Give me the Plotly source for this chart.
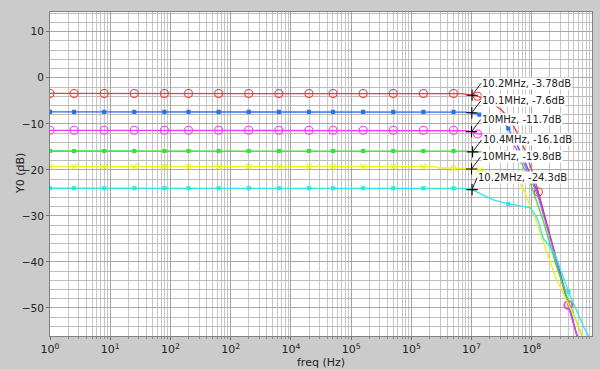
import math
import plotly.graph_objects as go

# ---------------- data (frequency exponents = log10(Hz), values in dB) ----------------
red_exp = [0, 0.4, 0.9, 1.4, 1.9, 2.3, 2.8, 3.3, 3.8, 4.3, 4.7, 5.2, 5.7, 6.2, 6.7,
           6.85, 7.0086, 7.1, 7.3, 7.5, 7.67, 7.8, 7.9, 8.0, 8.11, 8.3, 8.61, 8.76]
red_db = [-3.4, -3.4, -3.4, -3.4, -3.4, -3.4, -3.4, -3.4, -3.4, -3.4, -3.4, -3.4, -3.4, -3.4, -3.4,
          -3.45, -3.78, -4.0, -5.2, -7.0, -9.8, -13.0, -16.3, -20.0, -24.8, -34.0, -49.3, -56.5]
red_mk = [0, 1, 2, 3, 4, 5, 6, 7, 8, 9, 10, 11, 12, 13, 14, 17, 24, 26]

blue_exp = [0, 0.4, 0.9, 1.4, 1.9, 2.3, 2.8, 3.3, 3.8, 4.3, 4.7, 5.2, 5.7, 6.2, 6.7,
            6.9, 7.0043, 7.13, 7.3, 7.47, 7.61, 7.72, 7.84, 7.95, 8.1, 8.3, 8.61, 8.76]
blue_db = [-7.4, -7.4, -7.4, -7.4, -7.4, -7.4, -7.4, -7.4, -7.4, -7.4, -7.4, -7.4, -7.4, -7.4, -7.4,
           -7.45, -7.6, -8.0, -8.2, -8.6, -11.0, -13.8, -16.8, -20.2, -25.0, -34.3, -49.6, -56.5]
blue_mk = [0, 1, 2, 3, 4, 5, 6, 7, 8, 9, 10, 11, 12, 13, 14, 17, 20]

mag_exp = [0, 0.4, 0.9, 1.4, 1.9, 2.3, 2.8, 3.3, 3.8, 4.3, 4.7, 5.2, 5.7, 6.2, 6.7,
           6.9, 7.0, 7.1, 7.3, 7.53, 7.67, 7.78, 7.89, 7.97, 8.1, 8.3, 8.6, 8.76]
mag_db = [-11.4, -11.4, -11.4, -11.4, -11.4, -11.4, -11.4, -11.4, -11.4, -11.4, -11.4, -11.4, -11.4, -11.4, -11.4,
          -11.5, -11.7, -12.2, -12.4, -12.7, -13.8, -16.3, -19.2, -21.8, -25.6, -34.6, -49.4, -56.5]
mag_mk = [0, 1, 2, 3, 4, 5, 6, 7, 8, 9, 10, 11, 12, 13, 14, 17, 26]

green_exp = [0, 0.4, 0.9, 1.4, 1.9, 2.3, 2.8, 3.3, 3.8, 4.3, 4.7, 5.2, 5.7, 6.2, 6.7,
             6.9, 7.017, 7.3, 7.58, 7.72, 7.84, 7.95, 8.05, 8.2, 8.4, 8.61, 8.85]
green_db = [-15.9, -15.9, -15.9, -15.9, -15.9, -15.9, -15.9, -15.9, -15.9, -15.9, -15.9, -15.9, -15.9, -15.9, -15.9,
            -15.95, -16.1, -16.1, -16.2, -17.0, -18.8, -21.8, -25.6, -31.5, -40.5, -48.6, -56.5]
green_mk = [0, 1, 2, 3, 4, 5, 6, 7, 8, 9, 10, 11, 12, 13, 14, 18]

yel_exp = [0, 0.4, 0.9, 1.4, 1.9, 2.3, 2.8, 3.3, 3.8, 4.3, 4.7, 5.2, 5.7, 6.2,
           6.4, 6.45, 6.7, 7.0, 7.13, 7.35, 7.6, 7.78, 7.89, 7.97, 8.06, 8.17, 8.4, 8.61, 8.86]
yel_db = [-19.3, -19.3, -19.3, -19.3, -19.3, -19.3, -19.3, -19.3, -19.3, -19.3, -19.3, -19.3, -19.3, -19.3,
          -19.3, -19.6, -19.6, -19.8, -20.1, -20.6, -21.4, -22.5, -25.0, -27.9, -30.5, -34.9, -43.5, -49.2, -56.5]
yel_mk = [0, 1, 2, 3, 4, 5, 6, 7, 8, 9, 10, 11, 12, 13, 16, 18]

cyan_exp = [0, 0.4, 0.9, 1.4, 1.9, 2.3, 2.8, 3.3, 3.8, 4.3, 4.7, 5.2, 5.7, 6.2, 6.7,
            6.85, 7.0086, 7.36, 7.61, 7.97, 8.06, 8.11, 8.19, 8.3, 8.39, 8.61, 8.86, 8.96]
cyan_db = [-24.0, -24.0, -24.0, -24.0, -24.0, -24.0, -24.0, -24.0, -24.0, -24.0, -24.0, -24.0, -24.0, -24.0, -24.0,
           -24.05, -24.3, -26.5, -27.4, -28.2, -29.8, -31.2, -34.9, -36.6, -38.5, -46.5, -54.1, -56.5]
cyan_mk = [0, 1, 2, 3, 4, 5, 6, 7, 8, 9, 10, 11, 12, 13, 14, 18, 25]

# marker annotations at ~10 MHz
label_freq = [10.2e6, 10.1e6, 10.0e6, 10.4e6, 10.0e6, 10.2e6]
label_db = [-3.78, -7.6, -11.7, -16.1, -19.8, -24.3]
label_text = ["10.2MHz, -3.78dB", "10.1MHz, -7.6dB", "10MHz, -11.7dB",
              "10.4MHz, -16.1dB", "10MHz, -19.8dB", "10.2MHz, -24.3dB"]

x_tick_vals = [1, 10, 100, 1e3, 1e4, 1e5, 1e6, 1e7, 1e8]
x_tick_text = ["10<sup>0</sup>", "10<sup>1</sup>", "10<sup>2</sup>", "10<sup>2</sup>", "10<sup>4</sup>",
               "10<sup>5</sup>", "10<sup>5</sup>", "10<sup>7</sup>", "10<sup>8</sup>"]

# ---------------- figure ----------------
curves = [
    (red_exp, red_db, red_mk, "#f03c3c", "circle-open", 8),
    (blue_exp, blue_db, blue_mk, "#2a6ef5", "square", 3),
    (mag_exp, mag_db, mag_mk, "#f53cf5", "circle-open", 8),
    (green_exp, green_db, green_mk, "#2ee62e", "square", 3),
    (yel_exp, yel_db, yel_mk, "#f0f01e", "x-thin-open", 6),
    (cyan_exp, cyan_db, cyan_mk, "#2ee6e6", "square", 3),
]

fig = go.Figure()
for ex, db, mk, col, sym, sz in curves:
    f = [10 ** e for e in ex]
    fig.add_trace(go.Scatter(x=f, y=db, mode="lines", line=dict(color=col, width=1.3),
                             hoverinfo="skip", showlegend=False))
    fig.add_trace(go.Scatter(x=[f[i] for i in mk], y=[db[i] for i in mk], mode="markers",
                             marker=dict(symbol=sym, size=sz, color=col, line=dict(color=col, width=1.1)),
                             hoverinfo="skip", showlegend=False))

fig.add_trace(go.Scatter(x=label_freq, y=label_db, mode="markers",
                         marker=dict(symbol="cross-thin-open", size=8, color="black",
                                     line=dict(color="black", width=1.1)),
                         hoverinfo="skip", showlegend=False))

for i, (fq, v, t) in enumerate(zip(label_freq, label_db, label_text)):
    fig.add_annotation(x=math.log10(fq), y=v, text=t, showarrow=True, arrowhead=0,
                       arrowwidth=1, arrowcolor="#202020",
                       ax=(5 if i == 5 else 9), ay=-12, xanchor="left", yanchor="middle",
                       bgcolor="white", borderpad=0,
                       font=dict(family="DejaVu Sans", size=10, color="#202020"))

# y-axis title placed as a rotated annotation
fig.add_annotation(xref="paper", yref="paper", x=-30 / 542, y=0.5, text="Y0 (dB)",
                   textangle=-90, showarrow=False, xanchor="center", yanchor="middle",
                   font=dict(family="DejaVu Sans", size=11, color="#222222"))

minor_x = [k * 10 ** d for d in range(0, 9) for k in range(2, 10)]

fig.update_layout(
    width=600, height=369,
    margin=dict(l=50, r=8, t=12, b=33),
    paper_bgcolor="#cbcbcb", plot_bgcolor="white",
    font=dict(family="DejaVu Sans", size=11, color="#222222"),
)
fig.update_xaxes(
    type="log", range=[0, 9], automargin=False,
    tickmode="array", tickvals=x_tick_vals, ticktext=x_tick_text,
    ticks="outside", ticklen=3, tickcolor="#707070",
    showgrid=True, gridcolor="#a4a4a4", gridwidth=1,
    minor=dict(tickmode="array", tickvals=minor_x, showgrid=True, gridcolor="#c6c6c6",
               gridwidth=1, ticks="outside", ticklen=2, tickcolor="#909090"),
    showline=True, linecolor="#808080", linewidth=1, mirror=True,
    zeroline=False,
    title=dict(text="freq (Hz)", font=dict(size=11), standoff=0),
)
fig.update_yaxes(
    range=[-56.1, 14.3], tick0=0, dtick=10, automargin=False,
    ticks="outside", ticklen=3, tickcolor="#707070", tickfont=dict(size=10.5),
    showgrid=True, gridcolor="#a8a8a8", gridwidth=1,
    minor=dict(dtick=2, showgrid=True, gridcolor="#bdbdbd", gridwidth=1),
    showline=True, linecolor="#808080", linewidth=1, mirror=True,
    zeroline=False,
)

fig.write_html("out.html", config={"displayModeBar": False},
               post_script="document.body.style.margin='0';document.body.style.background='#cbcbcb';")
